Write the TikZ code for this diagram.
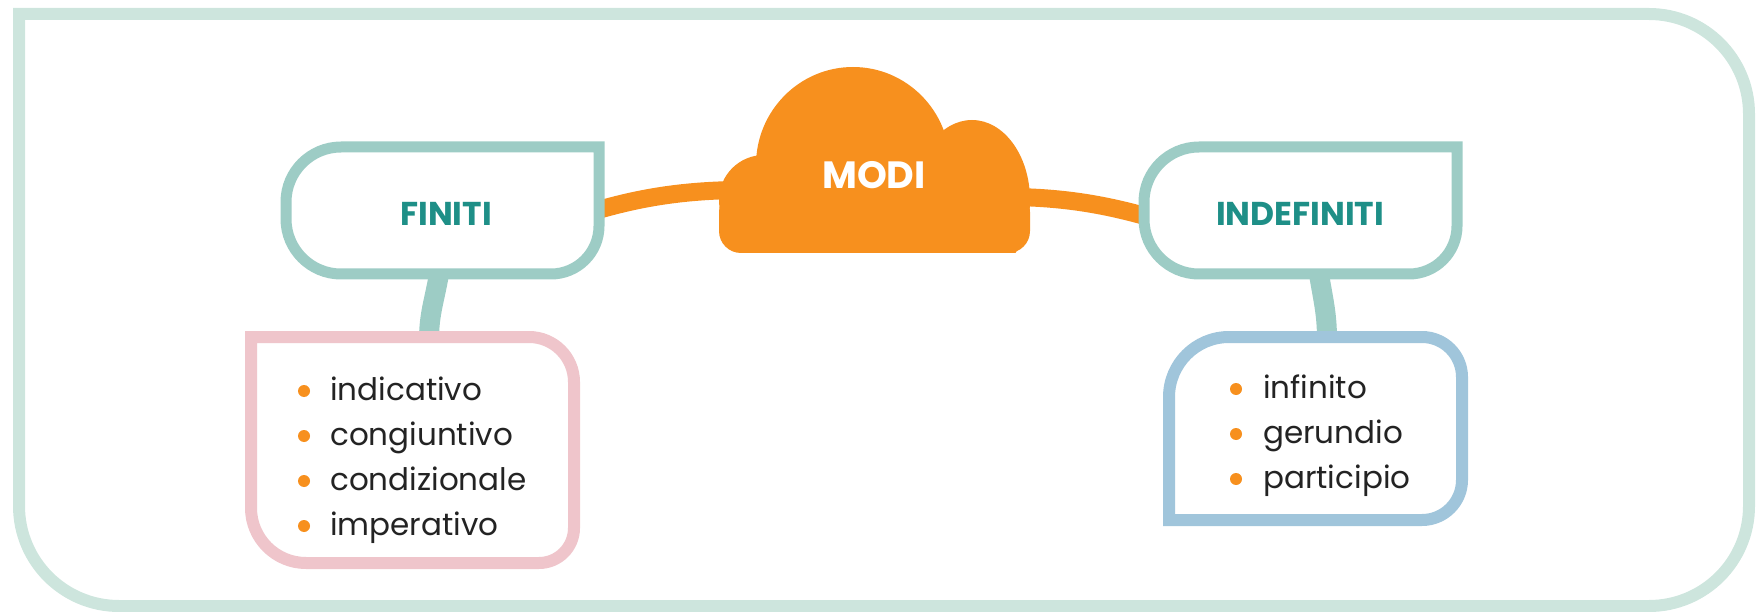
\documentclass[tikz,border=0pt]{standalone}
\usepackage{fontspec}
\setmainfont{Poppins}
\definecolor{framec}{RGB}{205,229,221}
\definecolor{tealb}{RGB}{157,204,197}
\definecolor{tealt}{RGB}{30,143,135}
\definecolor{orng}{RGB}{247,144,30}
\definecolor{pinkb}{RGB}{239,197,203}
\definecolor{blueb}{RGB}{160,197,219}
\definecolor{txt}{RGB}{35,35,35}
\begin{document}
\begin{tikzpicture}[x=1pt,y=-1pt,
  frame/.style={draw=framec,line width=12pt},
  headbox/.style={draw=tealb,line width=11pt,fill=white},
  listbox/.style={line width=12pt,fill=white},
  stem/.style={draw=tealb,line width=20pt},
  link/.style={draw=orng,line width=18pt},
  head/.style={font=\fontsize{33}{38}\selectfont\bfseries,text=tealt,inner sep=0pt},
  item/.style={font=\fontsize{31}{36}\selectfont,text=txt,anchor=base west,inner sep=0pt},
  dot/.style={fill=orng,circle,inner sep=0pt,minimum size=12pt}
]
\useasboundingbox (0,0) rectangle (1756,612);
% outer frame
\draw[frame] (19,14) -- (1649,14) arc[start angle=270,end angle=360,radius=100]
  -- (1749,506) arc[start angle=0,end angle=90,radius=100]
  -- (119,606) arc[start angle=90,end angle=180,radius=100] -- cycle;

% connector end points
\coordinate (finR) at (598,210);
\coordinate (cloudL) at (735,190);
\coordinate (cloudR) at (1015,197);
\coordinate (indL) at (1152,218);
\coordinate (finB) at (440,268);
\coordinate (pinkT) at (429,340);
\coordinate (indB) at (1318,268);
\coordinate (blueT) at (1327,340);

% orange links
\draw[link] (finR) .. controls (640,198) and (680,191) .. (cloudL);
\draw[link] (cloudR) .. controls (1070,198) and (1110,206) .. (indL);
% stems
\draw[stem] (finB) .. controls (435,300) and (429,312) .. (pinkT);
\draw[stem] (indB) .. controls (1323,300) and (1327,312) .. (blueT);

% FINITI box
\draw[headbox] (599,147) -- (599,226) arc[start angle=0,end angle=90,radius=48]
  -- (341,274) arc[start angle=90,end angle=180,radius=55]
  -- (286,202) arc[start angle=180,end angle=270,radius=55] -- cycle;
% INDEFINITI box
\draw[headbox] (1457,147) -- (1457,226) arc[start angle=0,end angle=90,radius=48]
  -- (1199,274) arc[start angle=90,end angle=180,radius=55]
  -- (1144,202) arc[start angle=180,end angle=270,radius=55] -- cycle;
% pink list box
\draw[listbox,draw=pinkb] (251,337) -- (529,337) arc[start angle=270,end angle=360,radius=45]
  -- (574,528) arc[start angle=0,end angle=90,radius=35]
  -- (306,563) arc[start angle=90,end angle=180,radius=55] -- cycle;
% blue list box
\draw[listbox,draw=blueb] (1169,520) -- (1169,397) arc[start angle=180,end angle=270,radius=60]
  -- (1422,337) arc[start angle=270,end angle=360,radius=40]
  -- (1462,480) arc[start angle=0,end angle=90,radius=40] -- cycle;

% cloud
\begin{scope}
\clip (690,40) rectangle (1060,253);
\fill[orng] (764,200) circle[radius=45];
\fill[orng] (853,165) ellipse[x radius=97,y radius=98];
\fill[orng] (972,200) ellipse[x radius=58,y radius=80];
\fill[orng,rounded corners=22] (719,190) rectangle (1030,253);
\end{scope}

% labels
\node[font=\fontsize{38}{42}\selectfont\bfseries,text=white,inner sep=0pt] (modi) at (874,175) {MODI};
\node[head] (finiti) at (446,214) {FINITI};
\node[head] (indef) at (1300,214) {INDEFINITI};

% left list
\node[item] (l1) at (330,400) {indicativo};
\node[item] (l2) at (330,445) {congiuntivo};
\node[item] (l3) at (330,490) {condizionale};
\node[item] (l4) at (330,535) {imperativo};
\node[dot] (d1) at (304,391) {};
\node[dot] (d2) at (304,436) {};
\node[dot] (d3) at (304,481) {};
\node[dot] (d4) at (304,526) {};
% right list
\node[item] (r1) at (1263,398) {infinito};
\node[item] (r2) at (1263,443) {gerundio};
\node[item] (r3) at (1263,488) {participio};
\node[dot] (e1) at (1236,389) {};
\node[dot] (e2) at (1236,434) {};
\node[dot] (e3) at (1236,479) {};
\end{tikzpicture}
\end{document}
